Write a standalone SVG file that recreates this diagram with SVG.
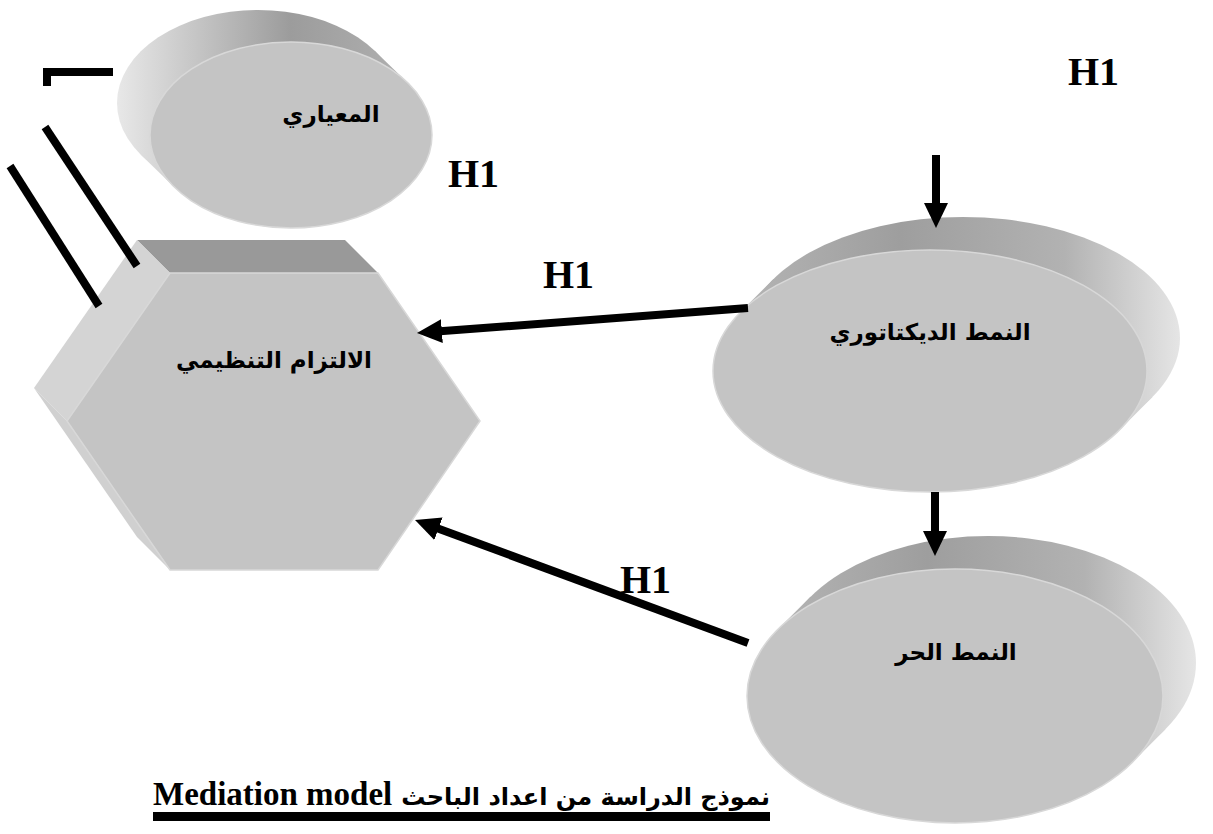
<svg xmlns="http://www.w3.org/2000/svg" width="1213" height="834" viewBox="0 0 1213 834">
  <defs>
    <style>
      .face { fill: #c4c4c4; stroke: #d8d8d8; stroke-width: 1.5; }
      .lbl { font-family: "DejaVu Sans", "Noto Sans", sans-serif; font-weight: bold; font-size: 23px; fill: #000; text-anchor: middle; }
      .h1 { font-family: "Liberation Serif", serif; font-weight: bold; font-size: 40px; fill: #000; }
      .wire { stroke: #000; stroke-width: 8; fill: none; }
      .conn { stroke: #000; stroke-width: 8; fill: none; marker-end: url(#head); }
    </style>
    <marker id="head" markerUnits="userSpaceOnUse" viewBox="0 0 25 24" markerWidth="25" markerHeight="24" refX="2" refY="12" orient="auto">
      <path d="M0,0 L25,12 L0,24 Z" fill="#000"/>
    </marker>
    <!-- side shading of the extruded ellipses -->
    <linearGradient id="sideTop" gradientUnits="userSpaceOnUse" x1="117" y1="0" x2="432" y2="0">
      <stop offset="0" stop-color="#e8e8e8"/>
      <stop offset="0.55" stop-color="#9c9c9c"/>
      <stop offset="1" stop-color="#b4b4b4"/>
    </linearGradient>
    <linearGradient id="sideDict" gradientUnits="userSpaceOnUse" x1="713" y1="0" x2="1182" y2="0">
      <stop offset="0" stop-color="#b8b8b8"/>
      <stop offset="0.4" stop-color="#9e9e9e"/>
      <stop offset="0.75" stop-color="#b2b2b2"/>
      <stop offset="1" stop-color="#e6e6e6"/>
    </linearGradient>
    <linearGradient id="sideFree" gradientUnits="userSpaceOnUse" x1="747" y1="0" x2="1197" y2="0">
      <stop offset="0" stop-color="#b8b8b8"/>
      <stop offset="0.4" stop-color="#9e9e9e"/>
      <stop offset="0.75" stop-color="#b2b2b2"/>
      <stop offset="1" stop-color="#e6e6e6"/>
    </linearGradient>
  </defs>

  <rect width="1213" height="834" fill="#fff"/>

  <!-- المعياري : ellipse extruded towards upper-left -->
  <g id="node-normative">
    <ellipse cx="258" cy="103" rx="141" ry="93" fill="url(#sideTop)"/>
    <polygon points="407.6,82.7 374.6,50.7 141.4,155.3 174.4,187.3" fill="url(#sideTop)"/>
    <ellipse class="face" cx="291" cy="135" rx="141" ry="93"/>
    <text class="lbl" x="331" y="122">المعياري</text>
  </g>

  <!-- الالتزام التنظيمي : hexagonal prism -->
  <g id="node-commitment">
    <polygon points="137,240 345,240 378,273 170,273" fill="#999"/>
    <polygon points="137,240 170,273 67,421 34,388" fill="#d4d4d4"/>
    <polygon points="34,388 67,421 170,570 137,537" fill="#d0d0d0"/>
    <polygon class="face" points="170,273 378,273 480,421 378,570 170,570 67,421"/>
    <text class="lbl" x="274" y="368">الالتزام التنظيمي</text>
  </g>

  <!-- النمط الديكتاتوري : ellipse extruded towards upper-right -->
  <g id="node-dictatorial">
    <ellipse cx="963" cy="338" rx="217" ry="121" fill="url(#sideDict)"/>
    <polygon points="1119.5,429.9 1152.5,396.9 773.5,279.1 740.5,312.1" fill="url(#sideDict)"/>
    <ellipse class="face" cx="930" cy="371" rx="217" ry="121"/>
    <text class="lbl" x="930" y="340">النمط الديكتاتوري</text>
  </g>

  <!-- النمط الحر -->
  <g id="node-laissez-faire">
    <ellipse cx="988" cy="663" rx="208" ry="127" fill="url(#sideFree)"/>
    <polygon points="1132.5,762.2 1165.5,729.2 810.5,596.8 777.5,629.8" fill="url(#sideFree)"/>
    <ellipse class="face" cx="955" cy="696" rx="208" ry="127"/>
    <text class="lbl" x="956" y="660">النمط الحر</text>
  </g>

  <!-- connectors and loose strokes -->
  <g id="connectors">
    <polyline class="wire" points="47,86 47,72 113,72" stroke-linejoin="miter"/>
    <line class="wire" x1="45" y1="127" x2="137" y2="266"/>
    <line class="wire" x1="10" y1="166" x2="99" y2="306"/>
    <line class="conn" x1="936" y1="155" x2="936" y2="205"/>
    <line class="conn" x1="748" y1="308" x2="439.9" y2="331.3"/>
    <line class="conn" x1="748" y1="643" x2="436.6" y2="528"/>
    <line class="conn" x1="935" y1="492" x2="935" y2="533"/>
  </g>

  <g id="labels">
    <text class="h1" x="1068" y="85">H1</text>
    <text class="h1" x="448" y="187">H1</text>
    <text class="h1" x="543" y="288">H1</text>
    <text class="h1" x="620" y="593">H1</text>
  </g>

  <g id="caption">
    <text x="153" y="805" font-family="Liberation Serif, serif" font-weight="bold" font-size="33">Mediation model</text>
    <text x="770" y="805" text-anchor="end" font-family="DejaVu Sans, sans-serif" font-weight="bold" font-size="24">نموذج الدراسة من اعداد الباحث</text>
    <rect x="153" y="812" width="617" height="9" fill="#000"/>
  </g>
</svg>
